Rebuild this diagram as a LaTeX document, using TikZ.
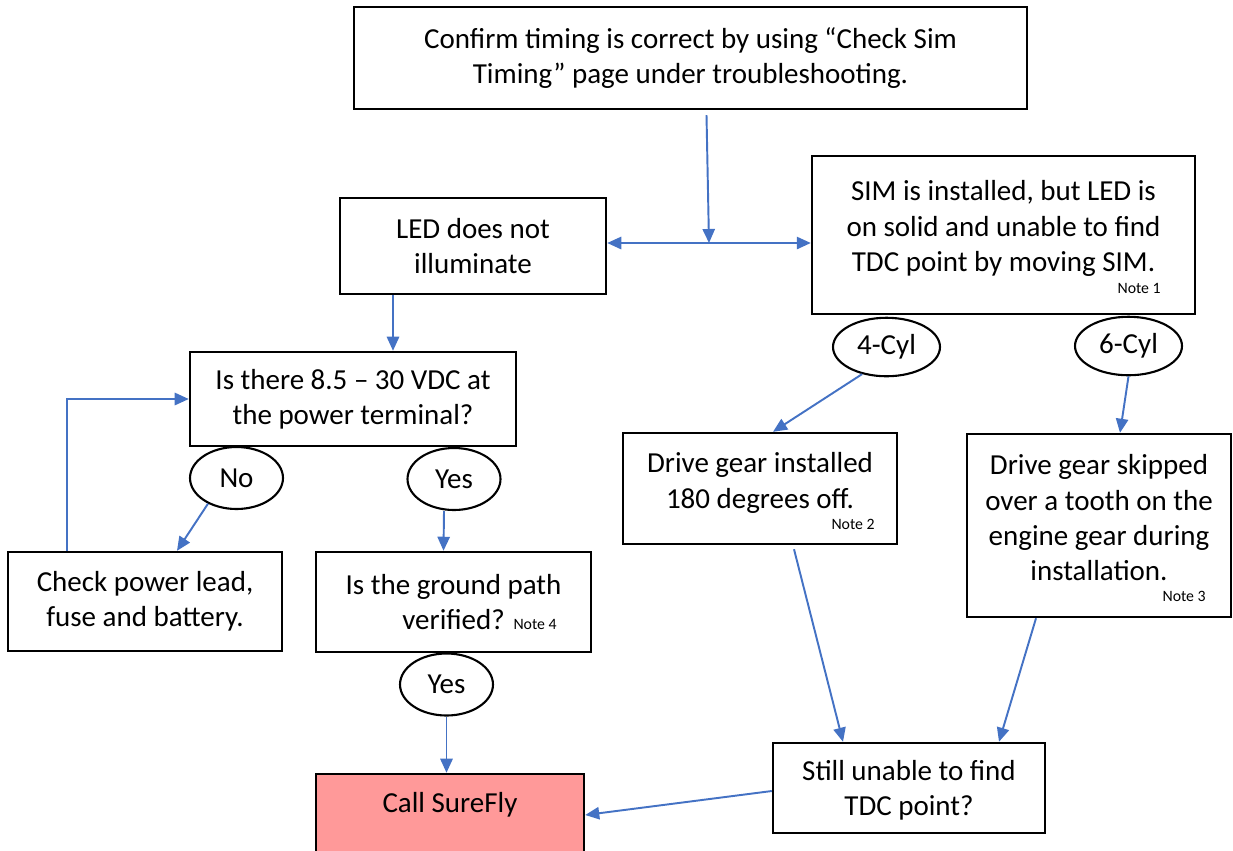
\documentclass[tikz,border=0pt]{standalone}
\usepackage{fontspec}
\setmainfont{Carlito}
\usepackage{tikz}
\usetikzlibrary{shapes.geometric}
\usetikzlibrary{arrows.meta,calc}
\definecolor{flowblue}{HTML}{4472C4}
\definecolor{callred}{HTML}{FF9999}
\newcommand{\notesize}{\fontsize{9}{10}\selectfont}
\tikzset{
flowbox/.style={rectangle, draw=black!100,fill=white,line width=1.4pt, inner sep=2pt, align=center, font=\fontsize{16.5}{20}\selectfont},
callbox/.style={flowbox, fill=callred},
answerellipse/.style={ellipse, draw=black!100,fill=white,line width=1.2pt, inner sep=0pt, minimum width= 1.86cm, minimum height = 1.24cm, font=\fontsize{16.5}{20}\selectfont},
noteword/.style={inner sep=0pt, anchor=east, font=\notesize},
flowarrow/.style={draw=flowblue, line width=1.1pt, ->, >={Triangle[length=8pt,width=7pt]}},
}

\begin{document}
\begin{tikzpicture}[x=0.02cm,y=-0.02cm]
  \useasboundingbox (0,0) rectangle (1233,850);

  \node[flowbox, minimum width=13.46cm, minimum height=2.04cm] at (690.5,58) (confirm) {Confirm timing is correct by using “Check Sim\\Timing” page under troubleshooting.};
  \node[flowbox, minimum width=5.32cm, minimum height=1.92cm] at (473,246) (nolight) {LED does not\\illuminate};
  \node[flowbox, minimum width=7.66cm, minimum height=3.16cm, text depth=10.3pt] at (1003.5,235) (solidled) {SIM is installed, but LED is\\on solid and unable to find\\TDC point by moving SIM.};
  \node[noteword] at (1161,288) (note1) {Note 1};

  \node[flowbox, minimum width=6.52cm, minimum height=1.88cm] at (353,399) (voltage) {Is there 8.5 – 30 VDC at\\the power terminal?};
  \node[answerellipse] at (236.5,478) (ansno) {No};
  \node[answerellipse] at (454,479) (ansyes) {Yes};
  \node[flowbox, minimum width=5.48cm, minimum height=1.98cm] at (145,601.5) (checklead) {Check power lead,\\fuse and battery.};
  \node[flowbox, minimum width=5.5cm, minimum height=2cm] at (453.5,602) (ground) {Is the ground path\\\hspace*{1.04cm}verified? {\notesize Note 4}};
  \node[answerellipse] at (446.5,684.5) (ansyes2) {Yes};
  \node[callbox, minimum width=5.36cm, minimum height=1.64cm, text depth=14.6pt] at (450,815) (callsf) {Call SureFly};

  \node[answerellipse, minimum width=2.14cm, minimum height=1.17cm] at (886.5,347) (cylfour) {4-Cyl};
  \node[answerellipse, minimum width=2.14cm, minimum height=1.17cm] at (1128.5,346) (cylsix) {6-Cyl};
  \node[flowbox, minimum width=5.48cm, minimum height=2.22cm, text depth=9.2pt] at (760,488.5) (gearoff) {Drive gear installed\\180 degrees off.};
  \node[noteword] at (875,524) (note2) {Note 2};
  \node[flowbox, minimum width=5.28cm, minimum height=3.66cm, text depth=9pt] at (1099,525.5) (gearskip) {Drive gear skipped\\over a tooth on the\\engine gear during\\installation.};
  \node[noteword] at (1206,596) (note3) {Note 3};
  \node[flowbox, minimum width=5.44cm, minimum height=1.8cm, text depth=0pt] at (909,788) (stilltdc) {Still unable to find\\TDC point?};

  \coordinate (split) at (709,243);
  \draw[flowarrow] ($(confirm.south)+(16,5)$) -- (split);
  \draw[flowarrow, <->] (split -| nolight.east) -- (split -| solidled.west);
  \draw[flowarrow] ($(nolight.south)+(-80,0)$) -- ($(voltage.north)+(40,0)$);
  \draw[flowarrow] (ansno.222) -- ($(checklead.north)+(32,0)$);
  \draw[flowarrow] ($(checklead.north)+(-78,0)$) |- (voltage.west);
  \draw[flowarrow] ($(ansyes.south)+(-10,0)$) -- ($(ground.north)+(-10,0)$);
  \draw[flowarrow] (ansyes2.south) -- (ansyes2.south |- callsf.north);
  \draw[flowarrow] (cylfour.228) -- ($(gearoff.north)+(13,0)$);
  \draw[flowarrow] (cylsix.south) -- ($(gearskip.north)+(21,0)$);
  \draw[flowarrow] ($(gearoff.south)+(34,4)$) -- ($(stilltdc.north)+(-66,0)$);
  \draw[flowarrow] ($(gearskip.south)+(-63,0)$) -- ($(stilltdc.north)+(90,0)$);
  \draw[flowarrow] ($(stilltdc.west)+(0,3)$) -- (callsf.east);
\end{tikzpicture}
\end{document}
